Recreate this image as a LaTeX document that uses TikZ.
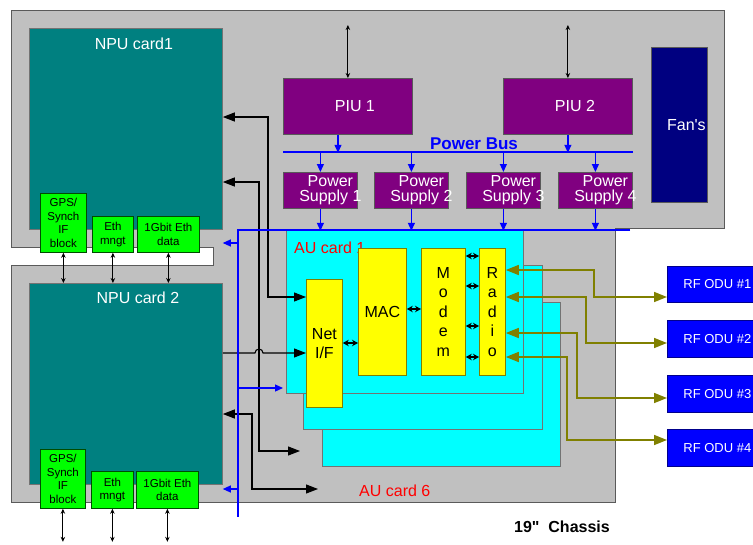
\documentclass[tikz,border=0pt]{standalone}
\usepackage{fontspec}
\setmainfont{Liberation Sans}[Ligatures=TeXOff]
\usetikzlibrary{positioning,arrows.meta}

\definecolor{chasgray}{RGB}{192,192,192}
\definecolor{chasline}{RGB}{90,90,90}
\definecolor{nputeal}{RGB}{0,128,128}
\definecolor{piupurple}{RGB}{128,0,128}
\definecolor{fannavy}{RGB}{0,0,128}
\definecolor{rfolive}{RGB}{128,128,0}
\definecolor{gpsgreen}{RGB}{0,255,0}
\definecolor{pwrblue}{RGB}{0,0,255}
\definecolor{aucyan}{RGB}{0,255,255}
\definecolor{blkyellow}{RGB}{255,255,0}

\begin{document}
\begin{tikzpicture}[
    x=1pt, y=-1pt,
    font=\fontsize{16}{19}\selectfont,
    chassis/.style={draw=chasline, fill=chasgray, line width=0.8pt},
    npucard/.style={draw=black!55, fill=nputeal, anchor=north west, inner sep=0pt,
                    line width=0.8pt, minimum width=193pt, minimum height=201pt},
    npulbl/.style={text=white, inner sep=0pt},
    greenblk/.style={draw=green!30!black, fill=gpsgreen, anchor=north west, inner sep=0pt,
                     line width=0.8pt, align=center, font=\fontsize{11.5}{13.5}\selectfont},
    piubox/.style={draw=black!65, fill=piupurple, anchor=north west, inner sep=0pt,
                   line width=0.8pt, minimum width=129pt, minimum height=56pt,
                   label={[text=white, xshift=7pt]center:#1}},
    psbox/.style={draw=black!65, fill=piupurple, anchor=north west, inner sep=0pt,
                  line width=0.8pt, minimum width=74pt, minimum height=36pt,
                  label={[text=white, align=center, xshift=10pt, font=\fontsize{16}{15}\selectfont]center:#1}},
    fanbox/.style={draw=black!65, fill=fannavy, anchor=north west, inner sep=0pt,
                   line width=0.8pt, minimum width=56pt, minimum height=155pt,
                   label={[text=white, xshift=7pt]center:#1}},
    aucard/.style={draw=black!55, fill=aucyan, anchor=north west, inner sep=0pt, line width=0.8pt},
    aulbl/.style={text=red, inner sep=0pt},
    yelblk/.style={draw=rfolive, fill=blkyellow, anchor=north west, inner sep=0pt,
                   line width=0.8pt, align=center},
    odubox/.style={draw=blue!55!black, fill=pwrblue, text=white, anchor=north west, inner sep=0pt,
                   line width=0.8pt, minimum width=100pt, font=\fontsize{13}{15}\selectfont},
    sig/.style={line width=1.1pt, {Triangle[length=12pt,width=9pt]}-{Triangle[length=12pt,width=9pt]}},
    sigin/.style={line width=1.1pt, -{Triangle[length=12pt,width=9pt]}},
    link/.style={line width=1.3pt, {Stealth[length=6pt,width=6.5pt]}-{Stealth[length=6pt,width=6.5pt]}},
    io/.style={line width=0.9pt, {Stealth[length=5pt,width=4.5pt]}-{Stealth[length=5pt,width=4.5pt]}},
    bus/.style={pwrblue, line width=2.4pt},
    pwr/.style={pwrblue, line width=1.2pt, -{Triangle[length=8pt,width=7pt]}},
    rf/.style={rfolive, line width=1.6pt, {Triangle[length=13pt,width=10pt]}-{Triangle[length=13pt,width=10pt]}}
]
\useasboundingbox (0,0) rectangle (753,544);
\clip (0,0) rectangle (753,544);

% chassis
\draw[chassis] (11,10) -- (724,10) -- (724,228) -- (615,228) -- (615,502) -- (11,502) -- cycle;
\fill[white] (5,247) rectangle (213,265);
\draw[chasline, line width=0.8pt] (11,247) -- (213,247) -- (213,265) -- (11,265);

% NPU cards
\node[npucard] (npuA) at (29,28) {};
\node[npulbl, below=10pt of npuA.north, xshift=8pt] (npuAt) {NPU card1};
\node[npucard] (npuB) at (29,283) {};
\node[npulbl, below=9pt of npuB.north, xshift=12pt] (npuBt) {NPU card 2};

\node[greenblk, minimum width=46pt, minimum height=59pt] (gpsA) at (40,193) {GPS/\\Synch\\IF\\block};
\node[greenblk, minimum width=41pt, minimum height=36pt] (ethA) at (92,216) {Eth\\mngt};
\node[greenblk, minimum width=62pt, minimum height=36pt] (gbeA) at (137,216) {1Gbit Eth\\data};
\node[greenblk, minimum width=45pt, minimum height=59pt] (gpsB) at (40,449) {GPS/\\Synch\\IF\\block};
\node[greenblk, minimum width=42pt, minimum height=37pt] (ethB) at (91,471) {Eth\\mngt};
\node[greenblk, minimum width=62pt, minimum height=37pt] (gbeB) at (136,471) {1Gbit Eth\\data};

% power
\node[piubox={PIU 1}] (piuA) at (283,78) {};
\node[piubox={PIU 2}] (piuB) at (503,78) {};
\node[psbox={Power\\Supply 1}] (psA) at (283,172) {};
\node[psbox={Power\\Supply 2}] (psB) at (374,172) {};
\node[psbox={Power\\Supply 3}] (psC) at (466,172) {};
\node[psbox={Power\\Supply 4}] (psD) at (558,172) {};
\node[fanbox={Fan's}] (fans) at (651,47) {};

% AU cards
\node[aucard, minimum width=238pt, minimum height=164pt] (auC) at (322,302) {};
\node[aucard, minimum width=239pt, minimum height=164pt] (auB) at (303,265) {};
\node[aucard, minimum width=237pt, minimum height=163pt] (auA) at (286,230) {};
\node[aulbl, below right=12pt and 8pt of auA.north west] (auAt) {AU card 1};
\node[aulbl, anchor=west] (auFt) at (359,491) {AU card 6};

\node[yelblk, minimum width=36pt, minimum height=128pt] (netif) at (306,279) {Net\\I/F};
\node[yelblk, minimum width=48pt, minimum height=127pt] (mac) at (358,248) {MAC};
\node[yelblk, minimum width=44pt, minimum height=127pt, font=\fontsize{16}{19.5}\selectfont]
    (modem) at (421,248) {M\\o\\d\\e\\m};
\node[yelblk, minimum width=26pt, minimum height=127pt, font=\fontsize{16}{19.5}\selectfont]
    (radio) at (479,248) {R\\a\\d\\i\\o};

% RF outdoor units
\node[odubox, minimum height=36pt] (odu1) at (667,266) {RF ODU \#1};
\node[odubox, minimum height=37pt] (odu2) at (667,320) {RF ODU \#2};
\node[odubox, minimum height=37pt] (odu3) at (667,375) {RF ODU \#3};
\node[odubox, minimum height=37pt] (odu4) at (667,429) {RF ODU \#4};

\coordinate (auEndA) at (300,451);
\coordinate (auEndB) at (318,489);
\coordinate (busE)   at (630,230);
\coordinate (busS)   at (238,517);
\coordinate (tapA)   at (238,243);
\coordinate (tapB)   at (238,388);
\coordinate (tapC)   at (238,489);

% data links
\draw[sig] (npuA.east |- 0,117) -| (268,297) -- (netif.west |- 0,297);
\draw[sig] (npuA.east |- 0,182) -| (259,451) -- (auEndA);
\draw[sigin] (npuB.east |- 0,353) -- (255,353) arc[start angle=180, end angle=0, radius=4pt]
    -- (netif.west |- 0,353);
\draw[sig] (npuB.east |- 0,414) -| (252,489) -- (auEndB);

\draw[link] (netif.east |- 0,343) -- (mac.west |- 0,343);
\draw[link] (mac.east |- 0,309) -- (modem.west |- 0,309);
\draw[link] (modem.east |- 0,256) -- (radio.west |- 0,256);
\draw[link] (modem.east |- 0,286) -- (radio.west |- 0,286);
\draw[link] (modem.east |- 0,326) -- (radio.west |- 0,326);
\draw[link] (modem.east |- 0,357) -- (radio.west |- 0,357);

\draw[io] (gpsA.south) -- (gpsA.south |- npuB.north);
\draw[io] (ethA.south) -- (ethA.south |- npuB.north);
\draw[io] (gbeA.south) -- (gbeA.south |- npuB.north);
\draw[io] (gpsB.south) -- ++(0,33);
\draw[io] (ethB.south) -- ++(0,33);
\draw[io] (gbeB.south) -- ++(0,33);
\draw[io] (piuA.north) -- ++(0,-53);
\draw[io] (piuB.north) -- ++(0,-53);

% radio links
\draw[rf] (radio.east |- 0,270) -| (594,297) -- (odu1.west |- 0,297);
\draw[rf] (radio.east |- 0,297) -| (586,343) -- (odu2.west |- 0,343);
\draw[rf] (radio.east |- 0,333) -| (577,398) -- (odu3.west |- 0,398);
\draw[rf] (radio.east |- 0,357) -| (567,440) -- (odu4.west |- 0,440);

% power distribution
\draw[bus] (piuA.west |- 0,152) -- (piuB.east |- 0,152);
\node[text=pwrblue, font=\bfseries\fontsize{17}{20}\selectfont, inner sep=0pt] (buslbl) at (474,144) {Power Bus};
\draw[pwr] (piuA.south -| 338,0) -- ++(0,18);
\draw[pwr] (piuB.south) -- ++(0,18);
\draw[pwr] (psA.north) ++(0,-20) -- (psA.north);
\draw[pwr] (psB.north) ++(0,-20) -- (psB.north);
\draw[pwr] (psC.north) ++(0,-20) -- (psC.north);
\draw[pwr] (psD.north) ++(0,-20) -- (psD.north);
\draw[bus] (busE) -| (busS);
\draw[pwr] (psA.south) -- ++(0,22);
\draw[pwr] (psB.south) -- ++(0,22);
\draw[pwr] (psC.south) -- ++(0,22);
\draw[pwr] (psD.south) -- ++(0,22);
\draw[pwr] (tapA) -- (npuA.east |- tapA);
\draw[pwr] (tapB) -- ([xshift=-3pt]auA.west |- tapB);
\draw[pwr] (tapC) -- (npuB.east |- tapC);

\node[font=\bfseries\fontsize{16}{19}\selectfont, inner sep=0pt] (chaslbl) at (562,527) {19"~~Chassis};

\end{tikzpicture}
\end{document}
